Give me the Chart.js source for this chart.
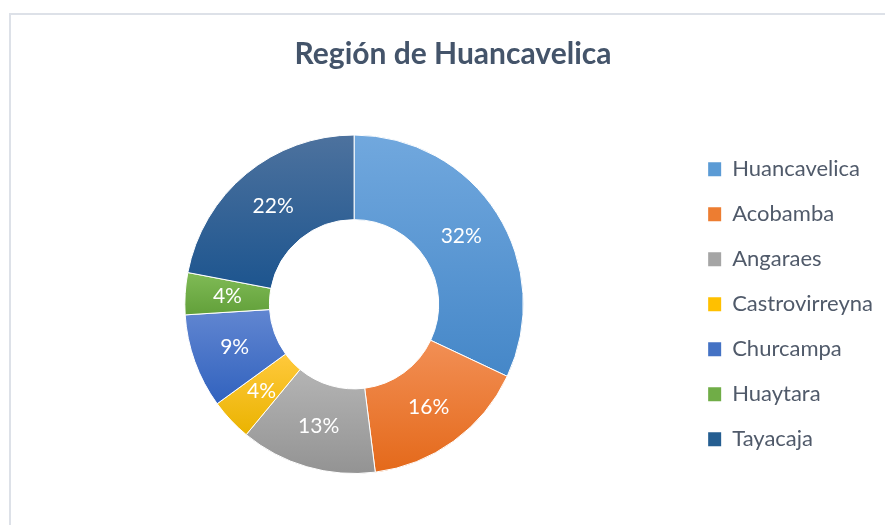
<!DOCTYPE html>
<html lang="es">
<head>
  <meta charset="UTF-8">
  <title>Región de Huancavelica</title>
  <script src="https://cdn.jsdelivr.net/npm/chart.js"></script>
  <style>
    body { margin: 0; background: #fff; }
  </style>
</head>
<body>
<canvas id="donutChart" width="885" height="525"></canvas>

<script>
    const provincias = ['Huancavelica', 'Acobamba', 'Angaraes', 'Castrovirreyna', 'Churcampa', 'Huaytara', 'Tayacaja'];
    const porcentajes = [32, 16, 13, 4, 9, 4, 22];

    // colores estilo Excel: base, y extremos del degradado de cada porción
    const coloresBase = ['#5b9bd5', '#ed7d31', '#a5a5a5', '#ffc000', '#4472c4', '#70ad47', '#255e91'];
    const coloresArriba = ['#71a8de', '#f28f55', '#b4b4b4', '#ffc93c', '#6186d1', '#80bb56', '#4d729e'];
    const coloresAbajo = ['#4587c8', '#e4691a', '#939393', '#eab300', '#3162be', '#62a03a', '#1d558f'];

    const total = porcentajes.reduce((a, b) => a + b, 0);

    // degradado vertical sobre el alto de cada porción
    function degradado(ctx) {
        const chart = ctx.chart;
        const area = chart.chartArea;
        const i = ctx.dataIndex;
        if (!area || i === undefined) return coloresBase[i] || coloresBase[0];
        const cy = (area.top + area.bottom) / 2;
        const r = Math.min(area.width, area.height) / 2;
        const rIn = r * 0.5;
        let previo = 0;
        for (let k = 0; k < i; k++) previo += porcentajes[k];
        const a0 = -Math.PI / 2 + previo / total * 2 * Math.PI;
        const a1 = a0 + porcentajes[i] / total * 2 * Math.PI;
        let arriba = Infinity, abajo = -Infinity;
        for (let s = 0; s <= 60; s++) {
            const a = a0 + (a1 - a0) * s / 60;
            [r, rIn].forEach(rr => {
                const y = cy + Math.sin(a) * rr;
                arriba = Math.min(arriba, y);
                abajo = Math.max(abajo, y);
            });
        }
        const g = chart.ctx.createLinearGradient(0, arriba, 0, abajo);
        g.addColorStop(0, coloresArriba[i]);
        g.addColorStop(1, coloresAbajo[i]);
        return g;
    }

    // marco gris claro del gráfico
    const marco = {
        id: 'marco',
        beforeDraw(chart) {
            const c = chart.ctx;
            c.save();
            c.strokeStyle = '#dde1e8';
            c.lineWidth = 2;
            c.beginPath();
            c.moveTo(10, chart.height);
            c.lineTo(10, 14);
            c.lineTo(chart.width, 14);
            c.stroke();
            c.restore();
        }
    };

    // porcentajes dentro de cada porción
    const etiquetas = {
        id: 'etiquetas',
        afterDatasetsDraw(chart) {
            const c = chart.ctx;
            const meta = chart.getDatasetMeta(0);
            c.save();
            c.fillStyle = '#ffffff';
            c.font = '21px Lato';
            c.textAlign = 'center';
            c.textBaseline = 'middle';
            meta.data.forEach((arc, i) => {
                const p = arc.getCenterPoint();
                c.fillText(Math.round(porcentajes[i] / total * 100) + '%', p.x, p.y);
            });
            c.restore();
        }
    };

    new Chart(document.getElementById('donutChart'), {
        type: 'doughnut',
        data: {
            labels: provincias,
            datasets: [{
                data: porcentajes,
                backgroundColor: degradado,
                borderColor: '#ffffff',
                borderWidth: 1
            }]
        },
        options: {
            responsive: false,
            animation: false,
            cutout: '50%',
            layout: { padding: { left: 23, right: 2, top: 0, bottom: 51 } },
            plugins: {
                title: {
                    display: true,
                    text: 'Región de Huancavelica',
                    color: '#44546a',
                    font: { family: 'Lato', size: 30, weight: 'bold' },
                    padding: { top: 36.5, bottom: 62 }
                },
                legend: {
                    position: 'right',
                    fullSize: false,
                    labels: {
                        boxWidth: 13,
                        boxHeight: 14,
                        padding: 23,
                        color: '#505a6a',
                        font: { family: 'Lato', size: 22 },
                        generateLabels(chart) {
                            return provincias.map((p, i) => ({
                                text: p,
                                fillStyle: coloresBase[i],
                                strokeStyle: coloresBase[i],
                                lineWidth: 0,
                                hidden: false,
                                index: i,
                                fontColor: '#505a6a'
                            }));
                        }
                    }
                },
                tooltip: { enabled: false }
            }
        },
        plugins: [marco, etiquetas]
    });
</script>
</body>
</html>
